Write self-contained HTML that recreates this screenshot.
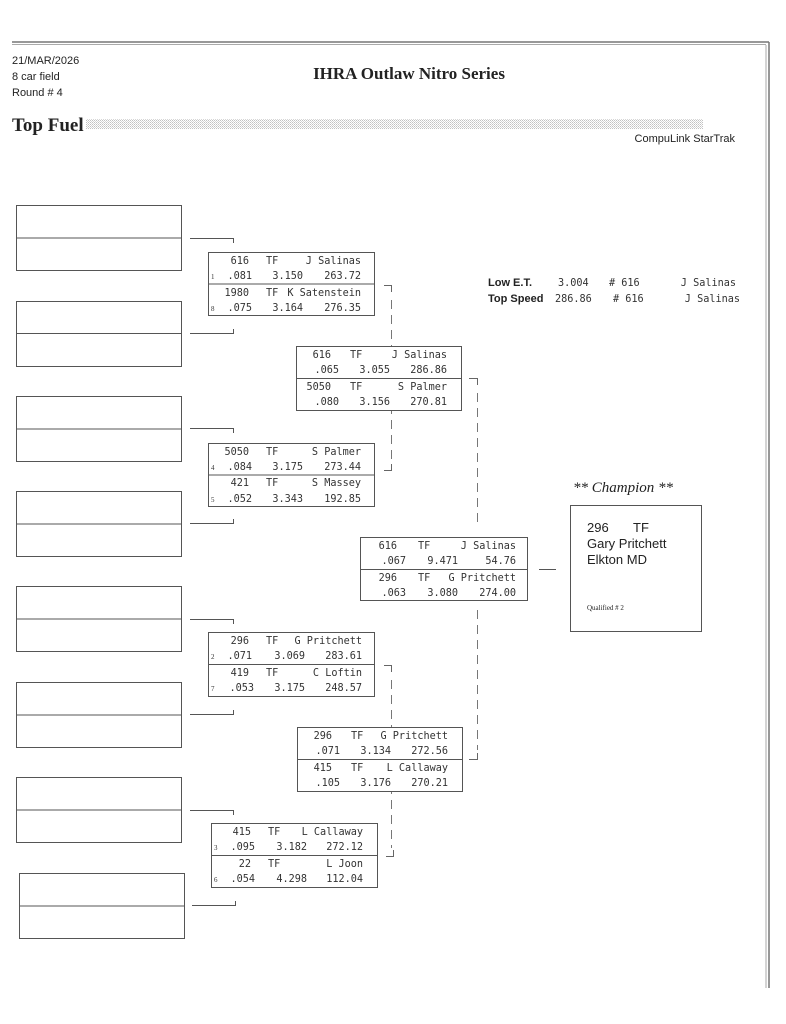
<!DOCTYPE html>
<html><head><meta charset="utf-8"><style>
html,body{margin:0;padding:0;background:#fff}
svg{display:block}
.m{font-family:"DejaVu Sans Mono","Liberation Mono",monospace;font-size:10.2px;fill:#333}
.s{font-family:"Liberation Sans",sans-serif;fill:#222}
.r{font-family:"Liberation Serif",serif;fill:#222}
.sd{font-family:"Liberation Serif",serif;font-size:7px;fill:#333}
</style></head><body>
<svg width="786" height="1024" viewBox="0 0 786 1024" xmlns="http://www.w3.org/2000/svg">
<defs><pattern id="dot" width="2" height="2" patternUnits="userSpaceOnUse"><rect width="1" height="1" fill="#999"/><rect x="1" y="1" width="1" height="1" fill="#bbb"/></pattern></defs>
<line x1="12" y1="42" x2="769" y2="42" stroke="#777" stroke-width="1.5"/>
<line x1="12" y1="44.5" x2="766" y2="44.5" stroke="#aaa" stroke-width="1"/>
<line x1="769" y1="42" x2="769" y2="988" stroke="#777" stroke-width="1.5"/>
<line x1="766" y1="45" x2="766" y2="988" stroke="#aaa" stroke-width="1"/>
<text class="s" x="12" y="64" font-size="11">21/MAR/2026</text>
<text class="s" x="12" y="80" font-size="11">8 car field</text>
<text class="s" x="12" y="96" font-size="11">Round # 4</text>
<text class="r" x="409" y="79" font-size="17" font-weight="bold" text-anchor="middle">IHRA Outlaw Nitro Series</text>
<text class="r" x="12" y="131" font-size="19" font-weight="bold">Top Fuel</text>
<rect x="86" y="119" width="617" height="10" fill="url(#dot)" opacity="0.6"/>
<text class="s" x="735" y="142" font-size="11" text-anchor="end">CompuLink StarTrak</text>
<text class="s" x="488" y="286" font-size="11" font-weight="bold">Low  E.T.</text>
<text class="s" x="488" y="302" font-size="11" font-weight="bold">Top Speed</text>
<text class="m" x="558" y="286">3.004</text>
<text class="m" x="555" y="302">286.86</text>
<text class="m" x="609" y="286"># 616</text>
<text class="m" x="613" y="302"># 616</text>
<text class="m" x="736" y="286" text-anchor="end">J Salinas</text>
<text class="m" x="740" y="302" text-anchor="end">J Salinas</text>
<!-- dashed lines first -->
<g stroke="#777" stroke-width="1" stroke-dasharray="9,6">
<line x1="391.5" y1="300" x2="391.5" y2="462"/>
<line x1="391.5" y1="680" x2="391.5" y2="848"/>
<line x1="477.5" y1="393" x2="477.5" y2="528"/>
<line x1="477.5" y1="610" x2="477.5" y2="750"/>
</g>
<g fill="#fff" stroke="#555" stroke-width="1">
<rect x="16.5" y="205.5" width="165" height="65"/><line x1="16" y1="238" x2="182" y2="238"/>
<rect x="16.5" y="301.5" width="165" height="65"/><line x1="16" y1="333.5" x2="182" y2="333.5"/>
<rect x="16.5" y="396.5" width="165" height="65"/><line x1="16" y1="429" x2="182" y2="429"/>
<rect x="16.5" y="491.5" width="165" height="65"/><line x1="16" y1="524" x2="182" y2="524"/>
<rect x="16.5" y="586.5" width="165" height="65"/><line x1="16" y1="619" x2="182" y2="619"/>
<rect x="16.5" y="682.5" width="165" height="65"/><line x1="16" y1="715" x2="182" y2="715"/>
<rect x="16.5" y="777.5" width="165" height="65"/><line x1="16" y1="810" x2="182" y2="810"/>
<rect x="19.5" y="873.5" width="165" height="65"/><line x1="19" y1="906" x2="185" y2="906"/>
<rect x="208.5" y="252.5" width="166" height="63"/><line x1="208" y1="284" x2="375" y2="284"/>
<rect x="208.5" y="443.5" width="166" height="63"/><line x1="208" y1="475" x2="375" y2="475"/>
<rect x="208.5" y="632.5" width="166" height="64"/><line x1="208" y1="664.5" x2="375" y2="664.5"/>
<rect x="211.5" y="823.5" width="166" height="64"/><line x1="211" y1="855.5" x2="378" y2="855.5"/>
<rect x="296.5" y="346.5" width="165" height="64"/><line x1="296" y1="378.5" x2="462" y2="378.5"/>
<rect x="297.5" y="727.5" width="165" height="64"/><line x1="297" y1="759.5" x2="463" y2="759.5"/>
<rect x="360.5" y="537.5" width="167" height="63"/><line x1="360" y1="569.5" x2="528" y2="569.5"/>
<rect x="570.5" y="505.5" width="131" height="126"/>
<line x1="539" y1="569.5" x2="556" y2="569.5"/>
</g>
<g fill="none" stroke="#555" stroke-width="1">
<path d="M190 238.5H233.5V243"/><path d="M190 333.5H233.5V329"/>
<path d="M190 428.5H233.5V433"/><path d="M190 523.5H233.5V519"/>
<path d="M190 619.5H233.5V624"/><path d="M190 714.5H233.5V710"/>
<path d="M190 810.5H233.5V815"/><path d="M192 905.5H235.5V901"/>
</g>
<g fill="none" stroke="#666" stroke-width="1">
<path d="M384 285.5H391.5V292"/><path d="M384 470.5H391.5V464"/>
<path d="M384 665.5H391.5V672"/><path d="M386 856.5H393.5V850"/>
<path d="M469 378.5H477.5V385"/><path d="M469 759.5H477.5V753"/>
</g>
<g class="m">
<text x="249" y="264" text-anchor="end">616</text><text x="266" y="264">TF</text><text x="361" y="264" text-anchor="end">J Salinas</text>
<text class="sd" x="211" y="279">1</text><text x="252" y="279" text-anchor="end">.081</text><text x="303" y="279" text-anchor="end">3.150</text><text x="361" y="279" text-anchor="end">263.72</text>
<text x="249" y="296" text-anchor="end">1980</text><text x="266" y="296">TF</text><text x="361" y="296" text-anchor="end">K Satenstein</text>
<text class="sd" x="211" y="311">8</text><text x="252" y="311" text-anchor="end">.075</text><text x="303" y="311" text-anchor="end">3.164</text><text x="361" y="311" text-anchor="end">276.35</text>

<text x="249" y="455" text-anchor="end">5050</text><text x="266" y="455">TF</text><text x="361" y="455" text-anchor="end">S Palmer</text>
<text class="sd" x="211" y="470">4</text><text x="252" y="470" text-anchor="end">.084</text><text x="303" y="470" text-anchor="end">3.175</text><text x="361" y="470" text-anchor="end">273.44</text>
<text x="249" y="486" text-anchor="end">421</text><text x="266" y="486">TF</text><text x="361" y="486" text-anchor="end">S Massey</text>
<text class="sd" x="211" y="502">5</text><text x="252" y="502" text-anchor="end">.052</text><text x="303" y="502" text-anchor="end">3.343</text><text x="361" y="502" text-anchor="end">192.85</text>

<text x="249" y="644" text-anchor="end">296</text><text x="266" y="644">TF</text><text x="362" y="644" text-anchor="end">G Pritchett</text>
<text class="sd" x="211" y="659">2</text><text x="252" y="659" text-anchor="end">.071</text><text x="305" y="659" text-anchor="end">3.069</text><text x="362" y="659" text-anchor="end">283.61</text>
<text x="249" y="676" text-anchor="end">419</text><text x="266" y="676">TF</text><text x="362" y="676" text-anchor="end">C Loftin</text>
<text class="sd" x="211" y="691">7</text><text x="254" y="691" text-anchor="end">.053</text><text x="305" y="691" text-anchor="end">3.175</text><text x="362" y="691" text-anchor="end">248.57</text>

<text x="251" y="835" text-anchor="end">415</text><text x="268" y="835">TF</text><text x="363" y="835" text-anchor="end">L Callaway</text>
<text class="sd" x="214" y="850">3</text><text x="255" y="850" text-anchor="end">.095</text><text x="307" y="850" text-anchor="end">3.182</text><text x="363" y="850" text-anchor="end">272.12</text>
<text x="251" y="867" text-anchor="end">22</text><text x="268" y="867">TF</text><text x="363" y="867" text-anchor="end">L Joon</text>
<text class="sd" x="214" y="882">6</text><text x="255" y="882" text-anchor="end">.054</text><text x="307" y="882" text-anchor="end">4.298</text><text x="363" y="882" text-anchor="end">112.04</text>

<text x="331" y="358" text-anchor="end">616</text><text x="350" y="358">TF</text><text x="447" y="358" text-anchor="end">J Salinas</text>
<text x="339" y="373" text-anchor="end">.065</text><text x="390" y="373" text-anchor="end">3.055</text><text x="447" y="373" text-anchor="end">286.86</text>
<text x="331" y="390" text-anchor="end">5050</text><text x="350" y="390">TF</text><text x="447" y="390" text-anchor="end">S Palmer</text>
<text x="339" y="405" text-anchor="end">.080</text><text x="390" y="405" text-anchor="end">3.156</text><text x="447" y="405" text-anchor="end">270.81</text>

<text x="332" y="739" text-anchor="end">296</text><text x="351" y="739">TF</text><text x="448" y="739" text-anchor="end">G Pritchett</text>
<text x="340" y="754" text-anchor="end">.071</text><text x="391" y="754" text-anchor="end">3.134</text><text x="448" y="754" text-anchor="end">272.56</text>
<text x="332" y="771" text-anchor="end">415</text><text x="351" y="771">TF</text><text x="448" y="771" text-anchor="end">L Callaway</text>
<text x="340" y="786" text-anchor="end">.105</text><text x="391" y="786" text-anchor="end">3.176</text><text x="448" y="786" text-anchor="end">270.21</text>

<text x="397" y="549" text-anchor="end">616</text><text x="418" y="549">TF</text><text x="516" y="549" text-anchor="end">J Salinas</text>
<text x="406" y="564" text-anchor="end">.067</text><text x="458" y="564" text-anchor="end">9.471</text><text x="516" y="564" text-anchor="end">54.76</text>
<text x="397" y="581" text-anchor="end">296</text><text x="418" y="581">TF</text><text x="516" y="581" text-anchor="end">G Pritchett</text>
<text x="406" y="596" text-anchor="end">.063</text><text x="458" y="596" text-anchor="end">3.080</text><text x="516" y="596" text-anchor="end">274.00</text>
</g>
<text class="r" x="573" y="492" font-size="15" font-style="italic">** Champion **</text>
<text class="s" x="587" y="532" font-size="13">296</text><text class="s" x="633" y="532" font-size="13">TF</text>
<text class="s" x="587" y="548" font-size="13">Gary Pritchett</text>
<text class="s" x="587" y="564" font-size="13">Elkton MD</text>
<text class="r" x="587" y="610" font-size="7">Qualified # 2</text>
</svg>
</body></html>
